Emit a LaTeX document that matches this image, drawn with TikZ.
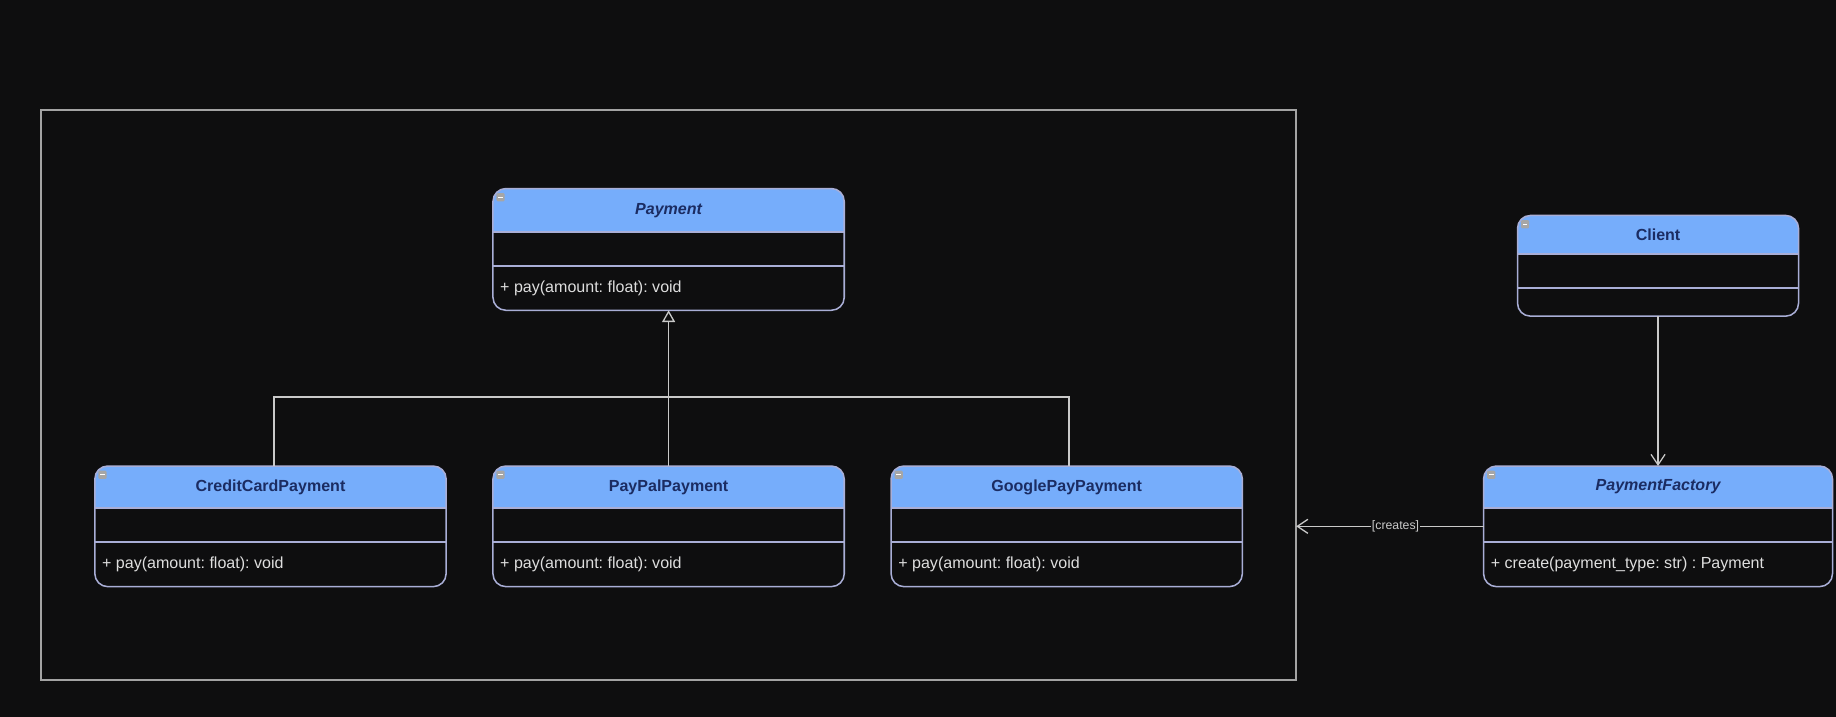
\documentclass[tikz,border=0pt]{standalone}
\usepackage{fontspec}
\setmainfont{Liberation Sans}
\frenchspacing
\usetikzlibrary{positioning, arrows.meta}

\definecolor{bg}{HTML}{0E0E0F}
\definecolor{hdr}{HTML}{76ADFB}
\definecolor{edge}{HTML}{A9AED6}
\definecolor{navy}{HTML}{1B2C62}
\definecolor{txt}{HTML}{DEDEDE}
\definecolor{wire}{HTML}{C9C9C9}
\definecolor{framegray}{HTML}{A3A3A3}

\tikzset{
	cls/.style={rectangle, inner sep=0pt, outer sep=0pt, minimum width=300pt, minimum height=103pt},
	ttl/.style={font=\fontsize{13.7}{16}\selectfont\bfseries, text=navy},
	meth/.style={font=\fontsize{13.7}{16}\selectfont, text=txt, anchor=west, inner sep=0pt},
	link/.style={draw=wire, line width=1.1pt},
	barb/.style={-{Straight Barb[length=9pt, width=12pt]}},
}

% header, outline and compartments of one class box
\newcommand{\umlclass}[4]{%
	\begin{scope}
		\clip (#1.north west) rectangle ([yshift=-#2pt]#1.north east);
		\fill[hdr, rounded corners=11pt] (#1.north west) rectangle (#1.south east);
	\end{scope}
	\draw[edge, line width=1.3pt, rounded corners=11pt] (#1.north west) rectangle (#1.south east);
	\draw[edge, line width=1.3pt] ([yshift=-#2pt]#1.north west) -- ([yshift=-#2pt]#1.north east);
	\draw[edge, line width=1.3pt] ([yshift=-#3pt]#1.north west) -- ([yshift=-#3pt]#1.north east);
	\fill[gray!70, rounded corners=1pt] ([xshift=3pt,yshift=-4pt]#1.north west) rectangle +(7pt,-7pt);
	\draw[white, line width=0.8pt] ([xshift=4.5pt,yshift=-7.5pt]#1.north west) -- +(4pt,0);
	\node[ttl] (#1-title) at ([yshift=-#2pt/2]#1.north) {#4};
}

\begin{document}
\begin{tikzpicture}[x=1pt, y=-1pt]
	\fill[bg] (0,0) rectangle (1568,612);
	\useasboundingbox (0,0) rectangle (1568,612);

	% package frame
	\node (pkg)[draw=framegray, line width=1.6pt, inner sep=0pt, outer sep=0pt, minimum width=1072pt, minimum height=487pt] at (571,337.5) {};

	% class boxes
	\node (pay)[cls, minimum height=104pt] at (571,213) {};
	\node (paypal)[cls, below=133pt of pay] {};
	\node (credit)[cls, left=40pt of paypal] {};
	\node (gpay)[cls, right=40pt of paypal] {};
	\node (factory)[cls, minimum width=298pt, right=206pt of gpay] {};
	\node (client)[cls, minimum width=240pt, minimum height=86pt, above=128pt of factory] {};

	\umlclass{pay}{37}{66}{\itshape Payment}
	\umlclass{credit}{36}{65}{CreditCardPayment}
	\umlclass{paypal}{36}{65}{PayPalPayment}
	\umlclass{gpay}{36}{65}{GooglePayPayment}
	\umlclass{client}{33}{62}{Client}
	\umlclass{factory}{36}{65}{\itshape PaymentFactory}

	\node (pay-op)[meth] at ([xshift=6pt,yshift=19pt]pay.south west) {+ pay(amount: float): void};
	\node (credit-op)[meth] at ([xshift=6pt,yshift=19pt]credit.south west) {+ pay(amount: float): void};
	\node (paypal-op)[meth] at ([xshift=6pt,yshift=19pt]paypal.south west) {+ pay(amount: float): void};
	\node (gpay-op)[meth] at ([xshift=6pt,yshift=19pt]gpay.south west) {+ pay(amount: float): void};
	\node (factory-op)[meth] at ([xshift=6pt,yshift=19pt]factory.south west) {+ create(payment\_type: str) : Payment};

	% inheritance
	\coordinate (join) at (571,339);
	\draw[link] ([xshift=3pt]credit.north) |- (join) -| ([xshift=2pt]gpay.north);
	\draw[link, -{Triangle[open, length=10pt, width=11pt]}] (paypal.north) -- (paypal.north |- pay.south);

	% associations
	\draw[link, barb] (client.south) -- (factory.north);
	\draw[link, barb] (factory.west) -- (factory.west -| pkg.east)
		node[pos=0.47, fill=bg, inner sep=1pt, text=wire, font=\fontsize{10.5}{12}\selectfont] {[creates]};
\end{tikzpicture}
\end{document}
